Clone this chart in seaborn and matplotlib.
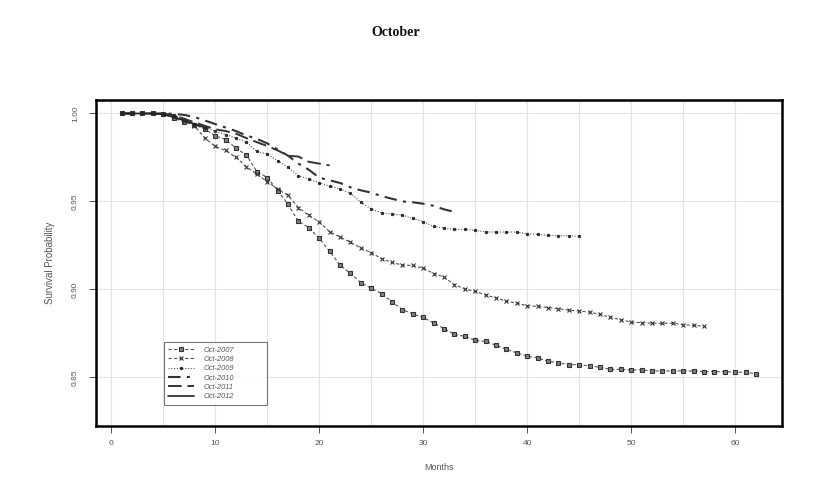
import matplotlib
matplotlib.use("Agg")
import matplotlib.pyplot as plt
import seaborn as sns
import pandas as pd

# survival probabilities by month for each October cohort
months_2007 = list(range(1, 63))
surv_2007 = [1.0, 1.0, 1.0, 1.0, 0.9995, 0.9976, 0.9951, 0.9936, 0.9911, 0.9873,
             0.9852, 0.9803, 0.9763, 0.967, 0.9636, 0.9562, 0.9483, 0.9386, 0.9351, 0.929,
             0.9216, 0.9138, 0.9091, 0.9038, 0.9006, 0.8976, 0.8928, 0.8885, 0.886, 0.884,
             0.8809, 0.8777, 0.8744, 0.8733, 0.871, 0.8704, 0.8682, 0.8659, 0.8638, 0.862,
             0.861, 0.8591, 0.8582, 0.8572, 0.8572, 0.8564, 0.8557, 0.8545, 0.8545, 0.8542,
             0.8542, 0.8536, 0.8536, 0.8536, 0.8536, 0.8536, 0.8532, 0.8532, 0.8532, 0.853,
             0.8528, 0.852]

months_2008 = list(range(1, 58))
surv_2008 = [1.0, 1.0, 1.0, 1.0, 0.9995, 0.998, 0.996, 0.993, 0.986, 0.9813,
             0.979, 0.975, 0.9697, 0.9655, 0.9613, 0.957, 0.9534, 0.9465, 0.942, 0.9384,
             0.9327, 0.9298, 0.9268, 0.9235, 0.9209, 0.9174, 0.9153, 0.9138, 0.9136, 0.912,
             0.909, 0.907, 0.9027, 0.9002, 0.8989, 0.8967, 0.8952, 0.8932, 0.8922, 0.8907,
             0.8903, 0.8896, 0.889, 0.8881, 0.8877, 0.887, 0.8858, 0.884, 0.8828, 0.8813,
             0.8811, 0.8807, 0.8807, 0.8807, 0.8799, 0.8795, 0.879]

months_2009 = list(range(1, 46))
surv_2009 = [1.0, 1.0, 1.0, 1.0, 0.9998, 0.999, 0.997, 0.994, 0.992, 0.99,
             0.988, 0.986, 0.9837, 0.9784, 0.977, 0.973, 0.9695, 0.9646, 0.9627, 0.9606,
             0.9586, 0.9571, 0.9547, 0.9495, 0.9457, 0.9435, 0.9428, 0.9422, 0.9403, 0.9385,
             0.9358, 0.9347, 0.9341, 0.9341, 0.9335, 0.9327, 0.9326, 0.9326, 0.9326, 0.9315,
             0.9313, 0.9307, 0.9305, 0.9305, 0.9301]

months_2010 = list(range(1, 34))
surv_2010 = [1.0, 1.0, 1.0, 1.0, 1.0, 0.9998, 0.9992, 0.998, 0.996, 0.994,
             0.992, 0.99, 0.9875, 0.9856, 0.983, 0.9795, 0.976, 0.9715, 0.968, 0.9635,
             0.962, 0.9605, 0.958, 0.9563, 0.955, 0.953, 0.9515, 0.95, 0.9495, 0.9487,
             0.9475, 0.9455, 0.944]

months_2011 = list(range(1, 22))
surv_2011 = [1.0, 1.0, 1.0, 1.0, 1.0, 0.999, 0.997, 0.995, 0.993, 0.991,
             0.99, 0.9885, 0.986, 0.9837, 0.9815, 0.979, 0.976, 0.9755, 0.9725, 0.9715,
             0.9705]

months_2012 = list(range(1, 10))
surv_2012 = [1.0, 1.0, 1.0, 1.0, 0.9995, 0.998, 0.996, 0.994, 0.992]

labels = ["Oct-2007", "Oct-2008", "Oct-2009", "Oct-2010", "Oct-2011", "Oct-2012"]
x_ticks = [0, 10, 20, 30, 40, 50, 60]
y_ticks = [0.85, 0.90, 0.95, 1.00]

sns.set_style("white")
plt.rcParams['font.family'] = ['Liberation Sans', 'DejaVu Sans']

fig = plt.figure(figsize=(8.28, 4.99), dpi=100)
ax = fig.add_axes([0.1155, 0.147, 0.829, 0.652])

styles = [
    dict(linestyle=(0, (3, 2)), marker='s', markersize=3.0, markerfacecolor='#808080',
         markeredgecolor='#333333', markeredgewidth=0.8, color='#555555', linewidth=0.8),
    dict(linestyle=(0, (3, 2)), marker='x', markersize=3.2, markerfacecolor='#333333',
         markeredgecolor='#333333', markeredgewidth=0.8, color='#555555', linewidth=0.8),
    dict(linestyle=(0, (1, 1.5)), marker='o', markersize=1.9, markerfacecolor='#222222',
         markeredgecolor='#222222', markeredgewidth=0.5, color='#555555', linewidth=0.8),
    dict(linestyle=(0, (6, 3, 1.5, 3)), color='#333333', linewidth=1.5),
    dict(linestyle=(0, (7, 3)), color='#333333', linewidth=1.4),
    dict(linestyle='-', color='#222222', linewidth=1.2),
]

series = [(months_2007, surv_2007), (months_2008, surv_2008), (months_2009, surv_2009),
          (months_2010, surv_2010), (months_2011, surv_2011), (months_2012, surv_2012)]

for (m, s), lab, st in zip(series, labels, styles):
    df = pd.DataFrame({'Months': m, 'Survival': s})
    sns.lineplot(data=df, x='Months', y='Survival', ax=ax, label=lab, **st)

ax.set_xlim(-1.5, 64.5)
ax.set_ylim(0.8225, 1.0075)
ax.set_xticks(x_ticks)
ax.set_xticklabels([str(t) for t in x_ticks])
ax.set_yticks(y_ticks)
ax.set_yticklabels([f"{t:.2f}" for t in y_ticks], rotation=90, va='center')

# light grid every 5 months and every 0.05
for gx in range(0, 65, 5):
    ax.axvline(gx, color='#e4e4e4', linewidth=0.8, zorder=0)
for gy in y_ticks:
    ax.axhline(gy, color='#e4e4e4', linewidth=0.8, zorder=0)

for sp in ax.spines.values():
    sp.set_visible(True)
    sp.set_color('black')
    sp.set_linewidth(1.8)

ax.tick_params(axis='both', direction='out', length=5, width=0.7, color='#555555',
               labelsize=6, labelcolor='#555555', bottom=True, left=True)
ax.tick_params(axis='y', pad=7)
ax.tick_params(axis='x', pad=5)

ax.set_xlabel('Months', fontsize=6.5, color='#555555', labelpad=12)
ax.set_ylabel('Survival Probability', fontsize=7, color='#555555', labelpad=12)

# R-style legend box: wider than its contents
leg = ax.legend(loc='upper left',
                bbox_to_anchor=(164 / 828, 1 - 404 / 499, 103 / 828, 62 / 499),
                bbox_transform=fig.transFigure, mode='expand', fontsize=5.3, frameon=True,
                fancybox=False, handlelength=3.5, handletextpad=1.3, labelspacing=0.3,
                borderpad=0.6, numpoints=1, borderaxespad=0)
leg.get_frame().set_edgecolor('#555555')
leg.get_frame().set_linewidth(0.8)
for t in leg.get_texts():
    t.set_color('#555555')
    t.set_fontstyle('italic')

fig.text(0.478, 1 - 32 / 499, 'October', ha='center', va='center',
         family='Liberation Serif', fontweight='bold', fontsize=10, color='#111111')

fig.savefig('out.png', dpi=100)
